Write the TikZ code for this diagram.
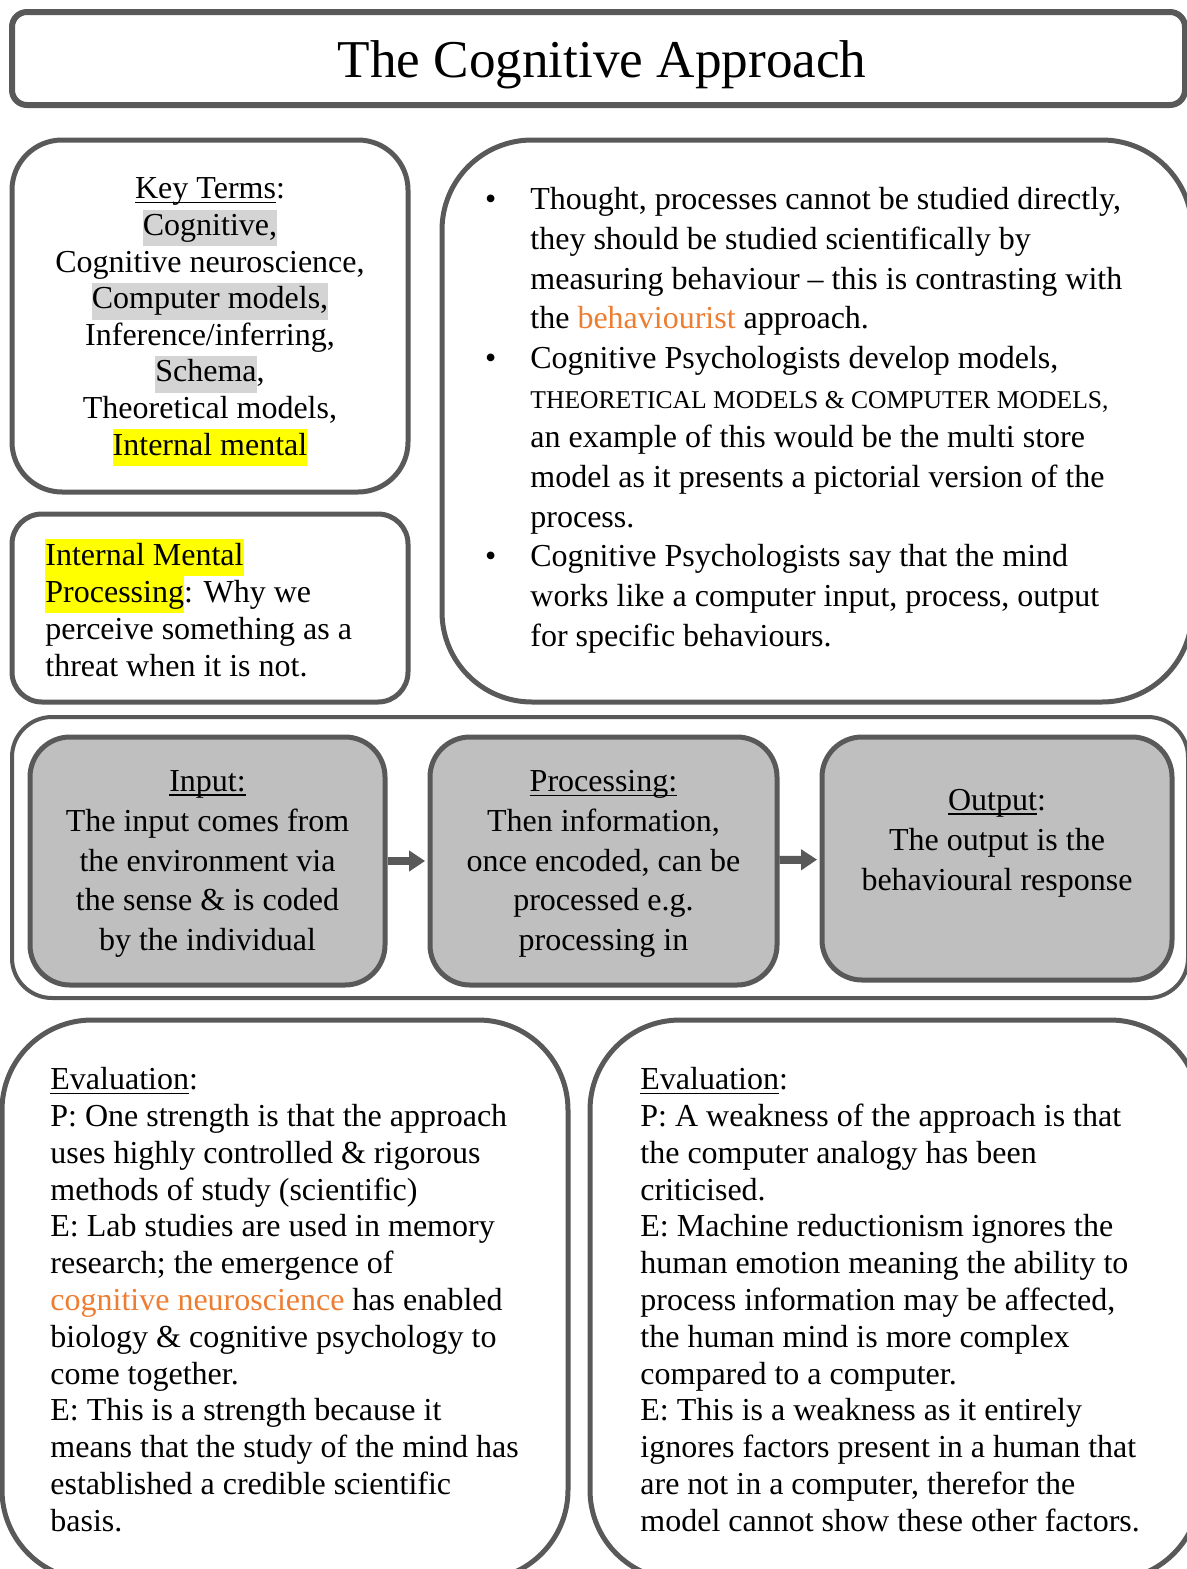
\documentclass[tikz,border=0pt]{standalone}
\usepackage{fontspec}
\setmainfont{Liberation Serif}
\usepackage{xcolor}
\usetikzlibrary{arrows.meta}

\definecolor{boxline}{HTML}{595959}
\definecolor{flowfill}{HTML}{BFBFBF}
\definecolor{hlgrey}{HTML}{D4D4D4}
\definecolor{hlyellow}{HTML}{FFFF00}
\definecolor{accent}{HTML}{ED7D31}

\newcommand{\hlmark}[2]{{\setlength{\fboxsep}{0pt}\colorbox{#1}{\strut #2}}}
\newcommand{\uln}[1]{\leavevmode\setbox0\hbox{#1}\rlap{\rule[-2.2pt]{\wd0}{0.7pt}}\box0}
\newcommand{\bul}{\makebox[0pt][r]{\textbullet\hspace{17pt}}}

\tikzstyle{panel}=[draw=boxline,line width=2.5pt,inner sep=0pt]
\tikzstyle{flowbox}=[draw=boxline,fill=flowfill,line width=2.5pt,rounded corners=20pt,inner sep=0pt]
\tikzstyle{flowtext}=[align=center,inner sep=0pt,font=\fontsize{16}{19.9}\selectfont]
\tikzstyle{textblock}=[align=left,inner sep=0pt,anchor=north west]
\tikzstyle{line} = [draw=boxline,line width=4pt,shorten >=1.2pt,-{Triangle[length=8pt,width=10pt]}]

\begin{document}
\begin{tikzpicture}[x=0.5pt,y=-0.5pt]
    \path[use as bounding box] (0,0) rectangle (1187,1569);

    % heading
    \node[panel,rounded corners=7.5pt,line width=3pt,minimum width=586.5pt,minimum height=46.5pt] (title) at (598.5,58.5) {};
    \node[font=\fontsize{26.6}{30}\selectfont] (titletext) at (602,65) {The Cognitive Approach};

    % key terms
    \node[panel,rounded corners=25pt,minimum width=198pt,minimum height=176pt] (keybox) at (210,316) {};
    \node[align=center,inner sep=0pt,font=\fontsize{16}{18.3}\selectfont] (keyterms) at (210,322)
        {\uln{Key Terms}:\\
         \hlmark{hlgrey}{Cognitive,}\\
         Cognitive neuroscience,\\
         \hlmark{hlgrey}{Computer models,}\\
         Inference/inferring,\\
         \hlmark{hlgrey}{Schema},\\
         Theoretical models,\\
         \hlmark{hlyellow}{Internal mental}};

    \node[panel,rounded corners=15pt,minimum width=198pt,minimum height=94pt] (imbox) at (210,608) {};
    \node[textblock,font=\fontsize{16}{18.5}\selectfont] (imtext) at (45,539)
        {\hlmark{hlyellow}{Internal Mental}\\
         \hlmark{hlyellow}{Processing}: Why we\\
         perceive something as a\\
         threat when it is not.};

    % main points
    \node[panel,rounded corners=45pt,minimum width=375pt,minimum height=281pt] (pointbox) at (817,421) {};
    \node[textblock,font=\fontsize{16}{19.85}\selectfont] (pointtext) at (530,187)
        {\bul Thought, processes cannot be studied directly,\\
         they should be studied scientifically by\\
         measuring behaviour -- this is contrasting with\\
         the \textcolor{accent}{behaviourist} approach.\\
         \bul Cognitive Psychologists develop models,\\
         {\fontsize{12.8}{19.85}\selectfont THEORETICAL MODELS \& COMPUTER MODELS,}\\
         an example of this would be the multi store\\
         model as it presents a pictorial version of the\\
         process.\\
         \bul Cognitive Psychologists say that the mind\\
         works like a computer input, process, output\\
         for specific behaviours.};

    % input - processing - output
    \node[panel,rounded corners=20pt,line width=2pt,minimum width=588pt,minimum height=140.5pt] (flowframe) at (600,857.5) {};
    \node[flowbox,minimum width=177.5pt,minimum height=124pt] (input) at (207.5,861) {};
    \node[flowbox,minimum width=173.5pt,minimum height=124pt] (processing) at (603.5,861) {};
    \node[flowbox,minimum width=175pt,minimum height=121.5pt] (output) at (997,858.5) {};
    \node[flowtext] (inputtext) at (207.5,864)
        {\uln{Input:}\\The input comes from\\the environment via\\the sense \& is coded\\by the individual};
    \node[flowtext] (processingtext) at (603.5,864)
        {\uln{Processing:}\\Then information,\\once encoded, can be\\processed e.g.\\processing in};
    \node[flowtext] (outputtext) at (997,843)
        {\uln{Output}:\\The output is the\\behavioural response};
    \path [line] (input) -- (processing);
    \path [line] (processing) -- (output);

    % evaluation
    \node[panel,rounded corners=45pt,minimum width=283pt,minimum height=280pt] (evalleft) at (285,1300) {};
    \node[textblock,font=\fontsize{16}{18.4}\selectfont] (evallefttext) at (50,1067)
        {\uln{Evaluation}:\\
         P: One strength is that the approach\\
         uses highly controlled \& rigorous\\
         methods of study (scientific)\\
         E: Lab studies are used in memory\\
         research; the emergence of\\
         \textcolor{accent}{cognitive neuroscience} has enabled\\
         biology \& cognitive psychology to\\
         come together.\\
         E: This is a strength because it\\
         means that the study of the mind has\\
         established a credible scientific\\
         basis.};

    \node[panel,rounded corners=45pt,minimum width=305pt,minimum height=280pt] (evalright) at (895,1300) {};
    \node[textblock,font=\fontsize{16}{18.4}\selectfont] (evalrighttext) at (640,1067)
        {\uln{Evaluation}:\\
         P: A weakness of the approach is that\\
         the computer analogy has been\\
         criticised.\\
         E: Machine reductionism ignores the\\
         human emotion meaning the ability to\\
         process information may be affected,\\
         the human mind is more complex\\
         compared to a computer.\\
         E: This is a weakness as it entirely\\
         ignores factors present in a human that\\
         are not in a computer, therefor the\\
         model cannot show these other factors.};
\end{tikzpicture}
\end{document}
